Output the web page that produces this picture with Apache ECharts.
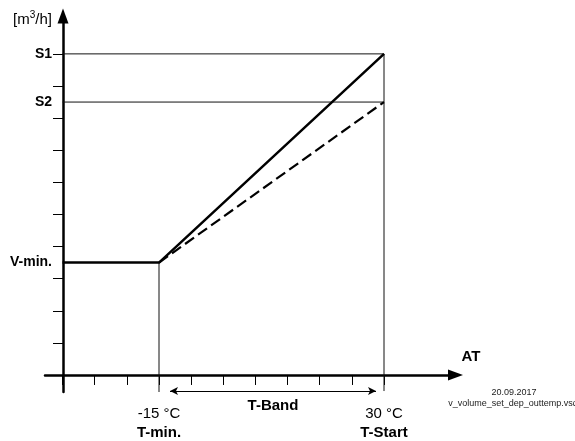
<!DOCTYPE html>
<html>
<head>
<meta charset="utf-8">
<script src="https://cdn.jsdelivr.net/npm/echarts@6/dist/echarts.min.js"></script>
<style>
  html, body { margin: 0; padding: 0; background: #fff; }
  #chart { width: 575px; height: 441px; }
</style>
</head>
<body>
<div id="chart"></div>
<script>
// Volume setpoint depending on the outside temperature (AT)
const tMin = -15;        // °C  T-min.
const tStart = 30;       // °C  T-Start
const vMin = 3.5;        // V-min. level
const s1 = 10;           // S1 level
const s2 = 8.5;          // S2 level

const xOrigin = -34.29;  // temperature where the flow axis stands
const xTickValues = [-34.29, -27.86, -21.43, -15, -8.57, -2.14, 4.29, 10.71, 17.14, 23.57, 30];
const yTickValues = [1, 2, 3, 4, 5, 6, 7, 8, 9, 10];
const xLabelValues = [tMin, tStart];
const xLabelNames = ['T-min.', 'T-Start'];
const yLabelValues = [vMin, s2, s1];
const yLabelNames = ['V-min.', 'S2', 'S1'];

const curveS1 = [[xOrigin, vMin], [tMin, vMin], [tStart, s1]];
const curveS2 = [[tMin, vMin], [tStart, s2]];
const bandY = -0.5;      // level of the T-Band dimension arrow
const dropY = -0.53;     // lower end of the vertical guide lines

const FONT = '"Liberation Sans", Arial, Helvetica, sans-serif';
const INK = '#000';

const chart = echarts.init(document.getElementById('chart'), null, { renderer: 'canvas' });

function thin(data) {
  return {
    type: 'line', data: data, symbol: 'none', silent: true, clip: false,
    lineStyle: { color: '#111', width: 1 }, z: 2
  };
}

chart.setOption({
  animation: false,
  backgroundColor: '#fff',
  textStyle: { fontFamily: FONT, color: INK },
  grid: { left: 45, top: 16, right: 119.5, bottom: 49, containLabel: false, outerBoundsMode: 'none' },
  xAxis: {
    type: 'value',
    min: -37.8, max: 44.3,
    name: 'AT',
    nameLocation: 'end',
    nameGap: 6,
    nameTextStyle: { fontFamily: FONT, fontSize: 15, fontWeight: 'bold', color: INK,
      align: 'left', verticalAlign: 'bottom', padding: [0, 0, 11, 0] },
    axisLine: { show: true, onZero: true, symbol: ['none', 'triangle'], symbolSize: [11, 15],
      lineStyle: { color: INK, width: 2.5 } },
    axisTick: { show: true, inside: false, length: 10, customValues: xTickValues,
      lineStyle: { color: INK, width: 1 } },
    axisLabel: {
      show: true, margin: 12, customValues: xLabelValues,
      formatter: function (v) {
        const i = xLabelValues.indexOf(v);
        return '{v|' + v + ' °C}\n{n|' + xLabelNames[i] + '}';
      },
      rich: {
        v: { fontFamily: FONT, fontSize: 15, color: INK, lineHeight: 19 },
        n: { fontFamily: FONT, fontSize: 15, fontWeight: 'bold', color: INK, lineHeight: 19 }
      }
    },
    splitLine: { show: false }
  },
  yAxis: {
    type: 'value',
    min: -0.53, max: 11.18,
    offset: -18,
    name: '{b|[m}{sup|3}{b|/h]}',
    nameLocation: 'end',
    nameGap: 0,
    nameTextStyle: { align: 'right', verticalAlign: 'middle', padding: [7, 11, 0, 0],
      rich: {
        b: { fontFamily: FONT, fontSize: 15, color: INK, lineHeight: 18 },
        sup: { fontFamily: FONT, fontSize: 10, color: INK, verticalAlign: 'top', lineHeight: 12 }
      }
    },
    axisLine: { show: true, onZero: false, symbol: ['none', 'triangle'], symbolSize: [11, 15],
      lineStyle: { color: INK, width: 2.5 } },
    axisTick: { show: true, inside: false, length: 10, customValues: yTickValues,
      lineStyle: { color: INK, width: 1 } },
    axisLabel: {
      show: true, margin: 11, customValues: yLabelValues,
      fontFamily: FONT, fontSize: 14, fontWeight: 'bold', color: INK,
      formatter: function (v) { return yLabelNames[yLabelValues.indexOf(v)]; }
    },
    splitLine: { show: false }
  },
  series: [
    thin([[xOrigin, s1], [tStart, s1]]),
    thin([[xOrigin, s2], [tStart, s2]]),
    thin([[tMin, vMin], [tMin, dropY]]),
    thin([[tStart, s1], [tStart, bandY]]),
    {
      type: 'line', data: curveS2, symbol: 'none', silent: true, clip: false, z: 3,
      lineStyle: { color: INK, width: 2.2, type: [11, 5] }
    },
    {
      type: 'line', data: curveS1, symbol: 'none', silent: true, clip: false, z: 4,
      lineStyle: { color: INK, width: 2.5 },
      markLine: {
        silent: true,
        symbol: ['arrow', 'arrow'],
        symbolSize: [6, 8],
        lineStyle: { color: INK, width: 1, type: 'solid' },
        label: {
          show: true, position: 'insideMiddleBottom', distance: 7,
          formatter: 'T-Band', fontFamily: FONT, fontSize: 15, fontWeight: 'bold', color: INK
        },
        data: [[{ coord: [tMin + 2.2, bandY] }, { coord: [tStart - 1.6, bandY] }]]
      }
    }
  ],
  graphic: [
    { type: 'text', x: 514, y: 393,
      style: { text: '20.09.2017', font: '9px ' + FONT, fill: '#222', textAlign: 'center', textVerticalAlign: 'middle' } },
    { type: 'text', x: 513, y: 404,
      style: { text: 'v_volume_set_dep_outtemp.vsd', font: '9px ' + FONT, fill: '#222', textAlign: 'center', textVerticalAlign: 'middle' } }
  ]
});
</script>
</body>
</html>
